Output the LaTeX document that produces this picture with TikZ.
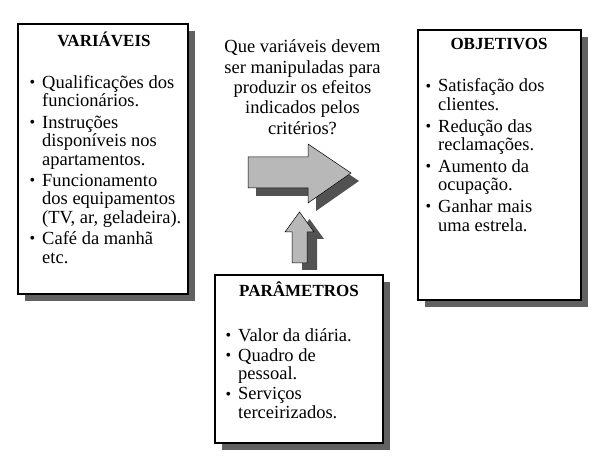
\documentclass[tikz,border=0pt]{standalone}
\usepackage{fontspec}
\setmainfont{Liberation Serif}
\usetikzlibrary{shadows}
\newcommand\bul{\makebox[12.5pt][l]{\fontsize{16}{16}\selectfont\raisebox{0.05em}{\textbullet}}}
\tikzset{
  box/.style={draw=black, line width=1.3pt, fill=white, inner sep=0pt, outer sep=0pt,
    anchor=north west,
    drop shadow={shadow xshift=7pt, shadow yshift=-7pt, fill=black!62, opacity=1}},
  ttl/.style={font=\fontsize{17}{20}\selectfont\bfseries, anchor=base, inner sep=0pt},
  lst/.style={font=\fontsize{18.5}{18.6}\selectfont, anchor=base west, inner sep=0pt, align=left},
  qst/.style={font=\fontsize{18.5}{20.3}\selectfont, anchor=base, inner sep=0pt},
  blockarrow/.style={draw=black, line width=0.5pt, fill=black!28},
  blockshadow/.style={fill=black!68},
}
\begin{document}
\begin{tikzpicture}[x=1pt, y=-1pt]
  \useasboundingbox[fill=white] (0,0) rectangle (610,470);

  % boxes
  \node[box, minimum width=170pt, minimum height=270pt] (var) at (18,24) {};
  \node[box, minimum width=163pt, minimum height=270pt] (obj) at (418,30) {};
  \node[box, minimum width=168pt, minimum height=168pt] (par) at (215,275) {};

  % titles
  \node[ttl] (vart) at (104,47) {VARIÁVEIS};
  \node[ttl] (objt) at (499,50) {OBJETIVOS};
  \node[ttl] (part) at (299,296) {PARÂMETROS};

  % lists
  \node[lst] (varl) at (29.5,88.3) {\begin{tabular}[t]{@{}l@{}l@{}}
    \bul & Qualificações dos\\
         & funcionários.\\[2.5pt]
    \bul & Instruções\\
         & disponíveis nos\\
         & apartamentos.\\[2.5pt]
    \bul & Funcionamento\\
         & dos equipamentos\\
         & (TV, ar, geladeira).\\[2.5pt]
    \bul & Café da manhã\\
         & etc.
  \end{tabular}};

  \node[lst] (objl) at (425.5,92) {\begin{tabular}[t]{@{}l@{}l@{}}
    \bul & Satisfação dos\\
         & clientes.\\[3pt]
    \bul & Redução das\\
         & reclamações.\\[3pt]
    \bul & Aumento da\\
         & ocupação.\\[3pt]
    \bul & Ganhar mais\\
         & uma estrela.
  \end{tabular}};

  \node[lst] (parl) at (225.5,341) {\begin{tabular}[t]{@{}l@{}l@{}}
    \bul & Valor da diária.\\[1.5pt]
    \bul & Quadro de\\
         & pessoal.\\[1.5pt]
    \bul & Serviços\\
         & terceirizados.
  \end{tabular}};

  % question
  \node[qst] (q) at (302.5,53) {\begin{tabular}[t]{@{}c@{}}
    Que variáveis devem\\
    ser manipuladas para\\
    produzir os efeitos\\
    indicados pelos\\
    critérios?
  \end{tabular}};

  % big right arrow
  \fill[blockshadow, shift={(8,8)}] (248,157) -- (308,157) -- (308,144) -- (351,173)
    -- (308,203) -- (308,188) -- (248,188) -- cycle;
  \filldraw[blockarrow] (248,157) -- (308,157) -- (308,144) -- (351,173)
    -- (308,203) -- (308,188) -- (248,188) -- cycle;

  % small up arrow
  \fill[blockshadow, shift={(10,7)}] (292,263) -- (292,232) -- (285,232) -- (299.5,212)
    -- (314,232) -- (307,232) -- (307,263) -- cycle;
  \filldraw[blockarrow] (292,263) -- (292,232) -- (285,232) -- (299.5,212)
    -- (314,232) -- (307,232) -- (307,263) -- cycle;
\end{tikzpicture}
\end{document}
